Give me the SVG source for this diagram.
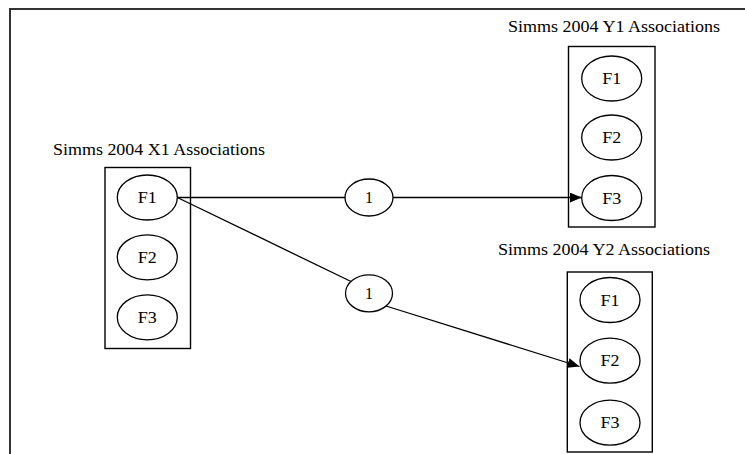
<svg xmlns="http://www.w3.org/2000/svg" width="745" height="454" viewBox="0 0 745 454">
<style>
.box{fill:none;stroke:#000;stroke-width:1.4}
.n ellipse{fill:none;stroke:#000;stroke-width:1.3}
text{font-family:"Liberation Serif","DejaVu Serif","Times New Roman",serif;fill:#000}
.lbl{font-size:16px}
.t{font-size:16px;text-anchor:middle}
.e{fill:none;stroke:#000;stroke-width:1.3}
</style>
<defs>
<marker id="arr" markerWidth="12" markerHeight="10" refX="12" refY="5" orient="auto" markerUnits="userSpaceOnUse">
<path d="M0,0 L12,5 L0,10 Z" fill="#000"/>
</marker>
</defs>
<rect x="0" y="0" width="745" height="454" fill="#fff"/>
<rect x="10" y="9" width="760" height="470" fill="none" stroke="#333" stroke-width="2"/>

<g id="X1">
<text class="lbl" x="53" y="155" textLength="212" lengthAdjust="spacingAndGlyphs">Simms 2004 X1 Associations</text>
<rect class="box" x="105" y="167.5" width="85.5" height="181"/>
<g id="X1_F1" class="n"><ellipse cx="147.3" cy="197.5" rx="30" ry="22.5"/><text class="t" x="147.3" y="203" textLength="19" lengthAdjust="spacingAndGlyphs">F1</text></g>
<g id="X1_F2" class="n"><ellipse cx="147.3" cy="257.3" rx="30" ry="22.5"/><text class="t" x="147.3" y="263" textLength="19" lengthAdjust="spacingAndGlyphs">F2</text></g>
<g id="X1_F3" class="n"><ellipse cx="147.3" cy="317.3" rx="30" ry="22.5"/><text class="t" x="147.3" y="323" textLength="19" lengthAdjust="spacingAndGlyphs">F3</text></g>
</g>

<g id="Y1">
<text class="lbl" x="508" y="32" textLength="212" lengthAdjust="spacingAndGlyphs">Simms 2004 Y1 Associations</text>
<rect class="box" x="568.5" y="46.5" width="86.5" height="180.5"/>
<g id="Y1_F1" class="n"><ellipse cx="611.7" cy="78.5" rx="30" ry="22.5"/><text class="t" x="611.7" y="84" textLength="19" lengthAdjust="spacingAndGlyphs">F1</text></g>
<g id="Y1_F2" class="n"><ellipse cx="611.7" cy="137.5" rx="30" ry="22.5"/><text class="t" x="611.7" y="143" textLength="19" lengthAdjust="spacingAndGlyphs">F2</text></g>
<g id="Y1_F3" class="n"><ellipse cx="611.7" cy="198" rx="30" ry="22.5"/><text class="t" x="611.7" y="203.5" textLength="19" lengthAdjust="spacingAndGlyphs">F3</text></g>
</g>

<g id="Y2">
<text class="lbl" x="498" y="255" textLength="212" lengthAdjust="spacingAndGlyphs">Simms 2004 Y2 Associations</text>
<rect class="box" x="567.3" y="272" width="85" height="180"/>
<g id="Y2_F1" class="n"><ellipse cx="610" cy="300" rx="30" ry="22.5"/><text class="t" x="610" y="305.5" textLength="19" lengthAdjust="spacingAndGlyphs">F1</text></g>
<g id="Y2_F2" class="n"><ellipse cx="610" cy="360.7" rx="30" ry="22.5"/><text class="t" x="610" y="366.2" textLength="19" lengthAdjust="spacingAndGlyphs">F2</text></g>
<g id="Y2_F3" class="n"><ellipse cx="610" cy="422.7" rx="30" ry="22.5"/><text class="t" x="610" y="428.2" textLength="19" lengthAdjust="spacingAndGlyphs">F3</text></g>
</g>

<g id="L1" class="n"><ellipse cx="369" cy="197.5" rx="24" ry="18.5"/><text class="t" x="369" y="203">1</text></g>
<g id="L2" class="n"><ellipse cx="369" cy="293.3" rx="23.5" ry="18.5"/><text class="t" x="369" y="299">1</text></g>

<g id="connectors">
<path class="e" d="M177.3,197.5 L345,197.5"/>
<path class="e" d="M393,197.5 L581.7,197.5" marker-end="url(#arr)"/>
<path class="e" d="M177.3,197.5 L351,281.5"/>
<path class="e" d="M386,306 L579.5,366.5" marker-end="url(#arr)"/>
</g>
</svg>
